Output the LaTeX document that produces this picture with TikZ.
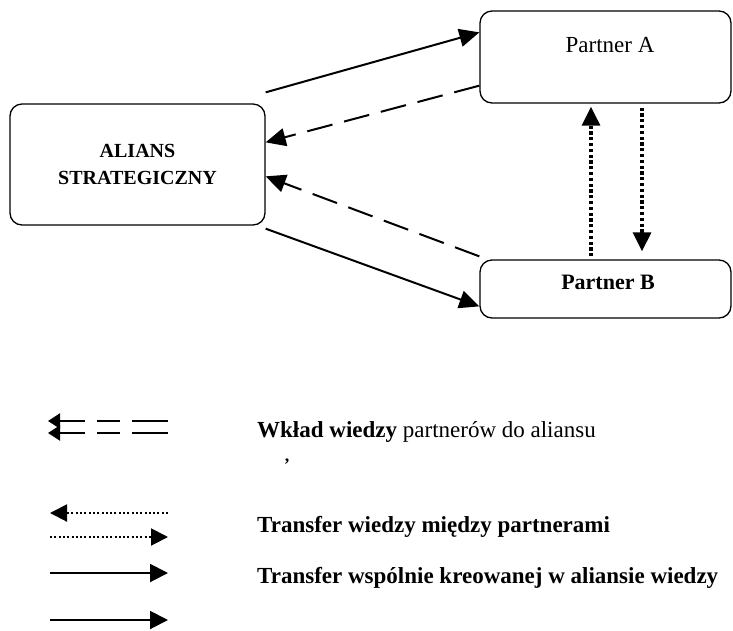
\documentclass[tikz,border=0pt]{standalone}
\usepackage{fontspec}
\setmainfont{Liberation Serif}
\usetikzlibrary{arrows.meta}
\begin{document}
\begin{tikzpicture}[x=1pt,y=-1pt,
  box/.style={draw,line width=1.3pt,rounded corners=12pt,inner sep=0pt},
  tip/.style={-{Triangle[length=20pt,width=18pt]}},
  solidline/.style={tip,line width=2pt},
  dashline/.style={tip,line width=2pt,dash pattern=on 26pt off 12pt},
  dotline/.style={-{Triangle[length=19pt,width=18pt]},line width=3.2pt,dash pattern=on 3.2pt off 2.6pt},
  legdash/.style={-{Triangle[length=12pt,width=15pt]},line width=2pt,dash pattern=on 36pt off 12pt on 23pt off 12pt},
  legdot/.style={-{Triangle[length=17pt,width=17pt]},line width=2pt,dash pattern=on 2pt off 2.3pt},
  legsolid/.style={-{Triangle[length=18pt,width=18pt]},line width=2pt},
  legtext/.style={anchor=west,inner sep=0pt,font=\fontsize{23}{26}\selectfont\bfseries}]
\useasboundingbox (0,0) rectangle (733,630);

% main boxes
\node[box,minimum width=255pt,minimum height=121pt,align=center,font=\fontsize{20}{27}\selectfont\bfseries]
  (alians) at (137.5,164.5) {ALIANS\\STRATEGICZNY};
\node[box,minimum width=251pt,minimum height=92pt] (pa) at (605.5,57) {};
\node[anchor=center,font=\fontsize{23}{26}\selectfont] (patext) at (610,45) {Partner A};
\node[box,minimum width=251pt,minimum height=58pt] (pb) at (605.5,289) {};
\node[anchor=center,font=\fontsize{22}{26}\selectfont\bfseries] (pbtext) at (608,282) {Partner B};

% knowledge flows between the alliance and the partners
\draw[solidline] ([yshift=11pt]alians.north east) -- ([yshift=-22pt]pa.north west);
\draw[dashline] ([yshift=18pt]pa.south west) -- ([yshift=-39pt]alians.north east);
\draw[dashline] ([yshift=3pt]pb.north west) -- ([yshift=-73pt]alians.north east);
\draw[solidline] ([yshift=-3pt]alians.south east) -- ([yshift=-47pt]pb.north west);

% transfer between the partners
\draw[dotline] ([xshift=-14.5pt,yshift=3pt]pb.north) -- ([xshift=-14.5pt,yshift=-3pt]pa.south);
\draw[dotline] ([xshift=36.5pt,yshift=-4pt]pa.south) -- ([xshift=36.5pt,yshift=8pt]pb.north);

% legend keys
\coordinate (k1a) at (48,421);  \coordinate (k1b) at (168,421);
\coordinate (k2a) at (48,433);  \coordinate (k2b) at (168,433);
\draw[legdash] (k1b) -- (k1a);
\draw[legdash] (k2b) -- (k2a);

\coordinate (k3a) at (50,513);  \coordinate (k3b) at (168,513);
\coordinate (k4a) at (50,537);  \coordinate (k4b) at (168,537);
\draw[legdot] (k3b) -- (k3a);
\draw[legdot] (k4a) -- (k4b);

\coordinate (k5a) at (50,573);  \coordinate (k5b) at (168,573);
\coordinate (k6a) at (50,620);  \coordinate (k6b) at (168,620);
\draw[legsolid] (k5a) -- (k5b);
\draw[legsolid] (k6a) -- (k6b);

% legend texts
\node[legtext] (l1) at (257,432) {Wkład wiedzy {\mdseries partnerów do aliansu}};
\node[inner sep=0pt,text height=2pt,text depth=4pt,font=\fontsize{18}{20}\selectfont\bfseries]
  (mark) at (287,462) {,};
\node[legtext] (l2) at (257,527) {Transfer wiedzy między partnerami};
\node[legtext] (l3) at (257,578) {Transfer wspólnie kreowanej w aliansie wiedzy};
\end{tikzpicture}
\end{document}
